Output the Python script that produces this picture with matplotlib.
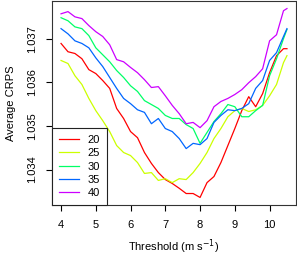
import numpy as np
import matplotlib
matplotlib.use("Agg")
import matplotlib.pyplot as plt

# Thresholds (m/s) and average CRPS per window length
threshold = [4.0, 4.2, 4.4, 4.6, 4.8, 5.0, 5.2, 5.4, 5.6, 5.8, 6.0, 6.2, 6.4, 6.6, 6.8,
             7.0, 7.2, 7.4, 7.6, 7.8, 8.0, 8.2, 8.4, 8.6, 8.8, 9.0, 9.2, 9.4, 9.6, 9.8,
             10.0, 10.2, 10.4, 10.5]

crps_20 = [1.03689, 1.03670, 1.03666, 1.03654, 1.03629, 1.03620, 1.03604, 1.03586, 1.03540,
           1.03517, 1.03487, 1.03473, 1.03439, 1.03414, 1.03393, 1.03377, 1.03368, 1.03357,
           1.03345, 1.03345, 1.03336, 1.03370, 1.03384, 1.03416, 1.03455, 1.03494, 1.03535,
           1.03567, 1.03544, 1.03574, 1.03622, 1.03661, 1.03677, 1.03677]
crps_25 = [1.03650, 1.03643, 1.03615, 1.03595, 1.03563, 1.03535, 1.03512, 1.03487, 1.03455,
           1.03439, 1.03432, 1.03416, 1.03391, 1.03393, 1.03375, 1.03379, 1.03370, 1.03379,
           1.03377, 1.03393, 1.03414, 1.03439, 1.03471, 1.03494, 1.03521, 1.03535, 1.03540,
           1.03533, 1.03537, 1.03547, 1.03569, 1.03595, 1.03645, 1.03661]
crps_30 = [1.03748, 1.03741, 1.03727, 1.03723, 1.03707, 1.03679, 1.03663, 1.03647, 1.03627,
           1.03611, 1.03592, 1.03579, 1.03558, 1.03549, 1.03540, 1.03524, 1.03517, 1.03517,
           1.03503, 1.03494, 1.03460, 1.03485, 1.03510, 1.03528, 1.03549, 1.03544, 1.03521,
           1.03521, 1.03535, 1.03547, 1.03615, 1.03654, 1.03700, 1.03721]
crps_35 = [1.03723, 1.03711, 1.03695, 1.03689, 1.03679, 1.03656, 1.03636, 1.03611, 1.03586,
           1.03563, 1.03551, 1.03537, 1.03531, 1.03505, 1.03517, 1.03494, 1.03487, 1.03471,
           1.03448, 1.03460, 1.03457, 1.03471, 1.03508, 1.03524, 1.03537, 1.03535, 1.03540,
           1.03551, 1.03586, 1.03604, 1.03650, 1.03668, 1.03705, 1.03723]
crps_40 = [1.03757, 1.03762, 1.03750, 1.03746, 1.03730, 1.03716, 1.03705, 1.03686, 1.03652,
           1.03647, 1.03634, 1.03622, 1.03606, 1.03588, 1.03590, 1.03569, 1.03547, 1.03528,
           1.03505, 1.03508, 1.03496, 1.03512, 1.03544, 1.03556, 1.03563, 1.03572, 1.03583,
           1.03599, 1.03613, 1.03631, 1.03695, 1.03709, 1.03764, 1.03769]

series = [crps_20, crps_25, crps_30, crps_35, crps_40]
labels = ["20", "25", "30", "35", "40"]
colors = ["#FF0000", "#CCFF00", "#00FF66", "#0066FF", "#CC00FF"]  # R rainbow(5)

plt.rcParams['font.family'] = ['Liberation Sans', 'DejaVu Sans']
plt.rcParams['font.size'] = 8

fig = plt.figure(figsize=(2.97, 2.56), dpi=100)
ax = fig.add_axes([52/297, 51/256, 244/297, 204/256])

for vals, lab, col in zip(series, labels, colors):
    ax.plot(threshold, vals, color=col, lw=0.9, label=lab)

# R style 4% padding
allv = np.concatenate([np.array(s) for s in series])
xr = threshold[-1] - threshold[0]
yr = allv.max() - allv.min()
ax.set_xlim(threshold[0] - 0.04 * xr, threshold[-1] + 0.04 * xr)
ax.set_ylim(allv.min() - 0.04 * yr, allv.max() + 0.04 * yr)

ax.set_xticks([4, 5, 6, 7, 8, 9, 10])
ax.set_yticks([1.034, 1.035, 1.036, 1.037])
ax.set_yticklabels(["1.034", "1.035", "1.036", "1.037"], rotation=90, va="center")
ax.tick_params(direction="out", length=4, width=0.8, pad=7, labelsize=8)

for sp in ax.spines.values():
    sp.set_color("#333333")
    sp.set_linewidth(0.8)

ax.set_xlabel("Threshold (m s$^{-1}$)", fontsize=8, labelpad=5)
ax.set_ylabel("Average CRPS", fontsize=8, labelpad=8)

leg = ax.legend(loc="lower left", bbox_to_anchor=(0, 0), borderaxespad=0,
                fancybox=False, edgecolor="#222222", framealpha=1,
                handlelength=1.8, handletextpad=0.8, labelspacing=0.3,
                borderpad=0.6, fontsize=8)
leg.get_frame().set_linewidth(0.8)

fig.savefig("out.png", dpi=100)
